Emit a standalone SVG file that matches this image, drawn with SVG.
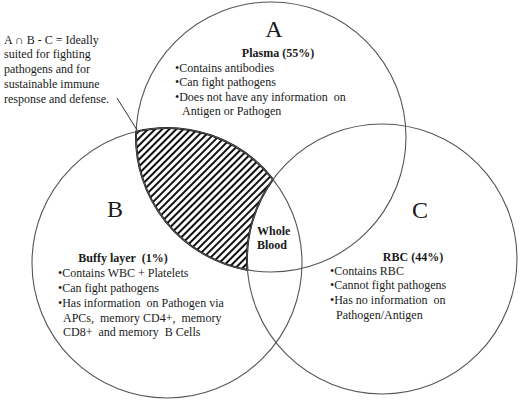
<svg xmlns="http://www.w3.org/2000/svg" width="520" height="402" viewBox="0 0 520 402">
<style>
text{font-family:"Liberation Serif","Times New Roman",serif;font-size:12px;fill:#1a1a1a;white-space:pre}
.big{font-size:24px;text-anchor:middle}
.b{font-weight:bold}
.c{text-anchor:middle}
.circ{fill:none;stroke:#555;stroke-width:1.1}
</style>
<defs>
<pattern id="hatch" width="5" height="5" patternUnits="userSpaceOnUse" patternTransform="rotate(45)">
<rect width="5" height="5" fill="#fff"/>
<line x1="1" y1="0" x2="1" y2="5" stroke="#111" stroke-width="2"/>
</pattern>
</defs>
<rect width="520" height="402" fill="#fff"/>
<g id="region-AB-C">
<path d="M136.1 131.6 A135 135 0 0 1 273.0 179.4 A135 135 0 0 0 247.4 269.9 A135 135 0 0 1 136.1 131.6 Z" fill="url(#hatch)" stroke="#111" stroke-width="2"/>
</g>
<g id="A">
<circle class="circ" cx="271" cy="137" r="135"/>
<text class="big" x="274" y="37">A</text>
<text class="b c" x="278" y="57">Plasma (55%)</text>
<text x="175" y="72">•Contains antibodies</text>
<text x="175" y="86">•Can fight pathogens</text>
<text x="175" y="101">•Does not have any information  on</text>
<text x="182" y="115">Antigen or Pathogen</text>
</g>
<g id="B">
<circle class="circ" cx="167" cy="263" r="135"/>
<text class="big" x="115" y="217">B</text>
<text class="b c" x="123" y="262">Buffy layer  (1%)</text>
<text x="58" y="277">•Contains WBC + Platelets</text>
<text x="58" y="292">•Can fight pathogens</text>
<text x="58" y="307">•Has information  on Pathogen via</text>
<text x="63" y="322">APCs,  memory CD4+,  memory</text>
<text x="63" y="336">CD8+  and memory  B Cells</text>
</g>
<g id="C">
<circle class="circ" cx="382" cy="259" r="135"/>
<text class="big" x="420" y="218">C</text>
<text class="b c" x="413" y="261">RBC (44%)</text>
<text x="330" y="275">•Contains RBC</text>
<text x="330" y="289">•Cannot fight pathogens</text>
<text x="330" y="304">•Has no information  on</text>
<text x="336" y="319">Pathogen/Antigen</text>
</g>
<g id="whole-blood">
<text class="b" x="257" y="235">Whole</text>
<text class="b" x="257" y="249">Blood</text>
</g>
<g id="annotation">
<text x="4" y="44">A ∩ B - C = Ideally</text>
<text x="4" y="58">suited for fighting</text>
<text x="4" y="73">pathogens and for</text>
<text x="4" y="88">sustainable immune</text>
<text x="4" y="103">response and defense.</text>
</g>
<g id="connectors">
<line x1="117" y1="98" x2="137" y2="130" stroke="#333" stroke-width="1"/>
</g>
</svg>
